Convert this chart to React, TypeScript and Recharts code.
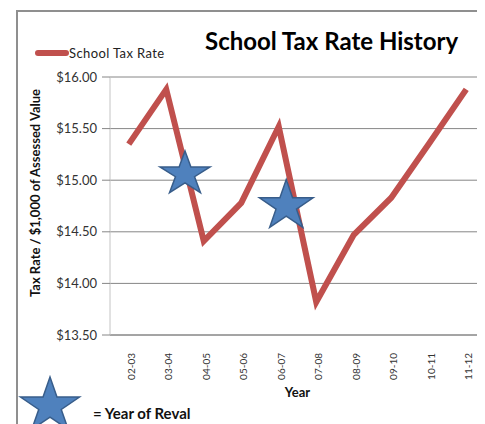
import React from 'react'
import { ComposedChart, Line, Scatter, XAxis, YAxis, CartesianGrid } from 'recharts'

const years = ['02-03', '03-04', '04-05', '05-06', '06-07', '07-08', '08-09', '09-10', '10-11', '11-12']
const taxRates = [15.35, 15.88, 14.41, 14.78, 15.52, 13.82, 14.47, 14.83, 15.35, 15.88]
const yTicks = [13.5, 14, 14.5, 15, 15.5, 16]
// reval stars sit between school years (position on the year axis)
const revalPositions = [1.5, 4.2]
const revalRates = [15.06, 14.75]

const chartData = years.map((year, i) => ({ idx: i, year, rate: taxRates[i] }))
const revalData = revalPositions.map((p, i) => ({ idx: p, rate: revalRates[i] }))

const RED = '#C0504D'
const BLUE = '#4F81BD'
const BLUE_DARK = '#385D8A'
const GRID = '#868686'
const FONT = 'Lato, "Liberation Sans", sans-serif'

const starRadius = [
  { rx: 26.3, ry: 23 },
  { rx: 28.2, ry: 26.5 },
]

function starPoints(cx: number, cy: number, rx: number, ry: number) {
  const pts: string[] = []
  for (let k = 0; k < 10; k++) {
    const a = ((-90 + k * 36) * Math.PI) / 180
    const r = k % 2 === 0 ? 1 : 0.382
    pts.push(`${cx + rx * r * Math.cos(a)},${cy + ry * r * Math.sin(a)}`)
  }
  return pts.join(' ')
}

const StarShape = (props: any) => {
  const { cx, cy, payload } = props
  const i = Math.max(0, revalPositions.indexOf(payload?.idx))
  const { rx, ry } = starRadius[i] || starRadius[0]
  return (
    <polygon
      points={starPoints(cx, cy, rx, ry)}
      fill={BLUE}
      stroke={BLUE_DARK}
      strokeWidth={1.5}
    />
  )
}

const YearTick = (props: any) => {
  const { x, y, payload } = props
  return (
    <text
      transform={`translate(${x + 2},${y}) rotate(-90)`}
      textAnchor="end"
      dominantBaseline="central"
      fontSize={10}
      fill="#333"
      fontFamily={FONT}
    >
      {years[payload.value]}
    </text>
  )
}

const AxisTitleY = (props: any) => {
  const { viewBox } = props
  const x = viewBox.x + 35
  const y = viewBox.y + viewBox.height / 2 - 13
  return (
    <text
      transform={`translate(${x},${y}) rotate(-90)`}
      textAnchor="middle"
      dominantBaseline="central"
      fontSize={13}
      fontWeight="bold"
      fill="#111"
      fontFamily={FONT}
    >
      Tax Rate / $1,000 of Assessed Value
    </text>
  )
}

const AxisTitleX = (props: any) => {
  const { viewBox } = props
  return (
    <text
      x={viewBox.x + viewBox.width / 2}
      y={viewBox.y + 57}
      textAnchor="middle"
      dominantBaseline="central"
      fontSize={13}
      fontWeight="bold"
      fill="#111"
      fontFamily={FONT}
    >
      Year
    </text>
  )
}

export default function App() {
  return (
    <div
      style={{
        position: 'relative',
        width: 485,
        height: 424,
        margin: '-8px 0 0 -8px',
        overflow: 'hidden',
        background: '#fff',
        fontFamily: FONT,
      }}
    >
      {/* chart frame */}
      <div
        style={{
          position: 'absolute',
          left: 16,
          top: 10,
          width: 480,
          height: 430,
          borderTop: '2px solid #8f8f8f',
          borderLeft: '2px solid #8f8f8f',
        }}
      />

      <div
        style={{
          position: 'absolute',
          left: 205,
          top: 26,
          fontSize: 24,
          fontWeight: 'bold',
          color: '#000',
          lineHeight: '30px',
          whiteSpace: 'nowrap',
        }}
      >
        School Tax Rate History
      </div>

      <div style={{ position: 'absolute', left: 35, top: 45, display: 'flex', alignItems: 'center', height: 16 }}>
        <span style={{ display: 'inline-block', width: 34, height: 6, borderRadius: 3, background: RED }} />
        <span style={{ fontSize: 13, letterSpacing: 0.4, color: '#222', whiteSpace: 'nowrap' }}>School Tax Rate</span>
      </div>

      <div style={{ position: 'absolute', left: 0, top: 0 }}>
        <ComposedChart width={485} height={424} data={chartData} margin={{ top: 77, right: 0, bottom: 0, left: 0 }}>
          <CartesianGrid vertical={false} stroke={GRID} strokeWidth={1} />
          <XAxis
            dataKey="idx"
            type="number"
            domain={[-0.5, 9.5]}
            ticks={years.map((_, i) => i)}
            interval={0}
            height={89}
            axisLine={{ stroke: GRID }}
            tickLine={false}
            tickSize={6}
            tickMargin={12}
            tick={<YearTick />}
            label={<AxisTitleX />}
          />
          <YAxis
            type="number"
            domain={[13.5, 16]}
            ticks={yTicks}
            interval={0}
            width={110}
            axisLine={{ stroke: '#c4c4c4' }}
            tickLine={{ stroke: GRID }}
            tickSize={8}
            tickMargin={5}
            tick={{ fontSize: 13, fill: '#333', fontFamily: FONT }}
            tickFormatter={(v: number) => `$${v.toFixed(2)}`}
            label={<AxisTitleY />}
          />
          <Line
            dataKey="rate"
            stroke={RED}
            strokeWidth={6}
            dot={false}
            activeDot={false}
            isAnimationActive={false}
          />
          <Scatter data={revalData} dataKey="rate" shape={<StarShape />} isAnimationActive={false} />
        </ComposedChart>
      </div>

      {/* reval legend */}
      <svg style={{ position: 'absolute', left: 0, top: 360 }} width={100} height={64}>
        <polygon points={starPoints(50, 46, 31, 29)} fill={BLUE} stroke={BLUE_DARK} strokeWidth={1.5} />
      </svg>
      <div
        style={{
          position: 'absolute',
          left: 93,
          top: 403,
          fontSize: 15,
          fontWeight: 'bold',
          color: '#111',
          lineHeight: '20px',
          whiteSpace: 'nowrap',
        }}
      >
        = Year of Reval
      </div>
    </div>
  )
}
